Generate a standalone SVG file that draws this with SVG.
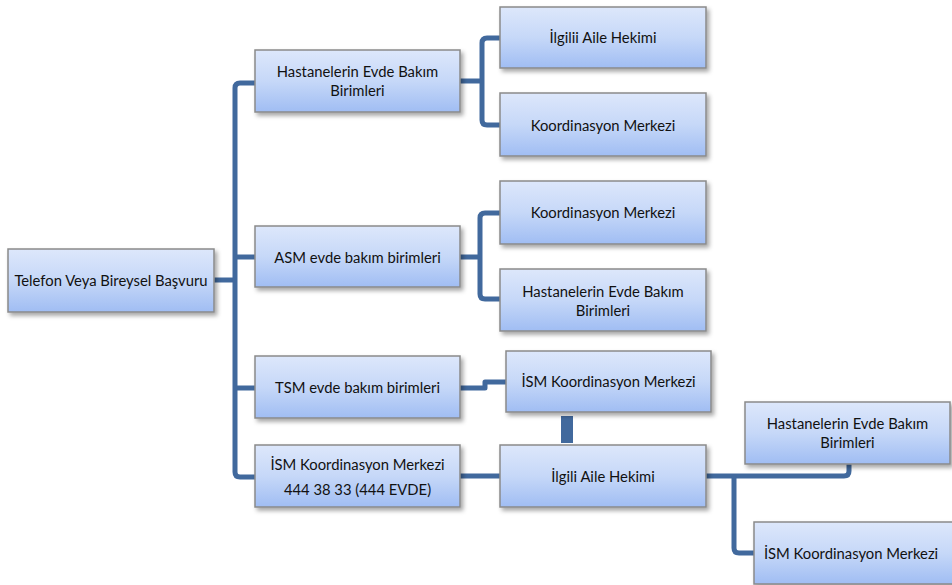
<svg xmlns="http://www.w3.org/2000/svg" width="952" height="585" viewBox="0 0 952 585">
<defs>
<linearGradient id="g" x1="0" y1="0" x2="0" y2="1">
<stop offset="0" stop-color="#dde7fb"/>
<stop offset="0.5" stop-color="#c6d8f8"/>
<stop offset="1" stop-color="#a0bdf3"/>
</linearGradient>
<filter id="sh" x="-10%" y="-10%" width="130%" height="140%">
<feDropShadow dx="2.5" dy="3" stdDeviation="2" flood-color="#000" flood-opacity="0.35"/>
</filter>
</defs>
<style>
.box{fill:url(#g);stroke:#8a8a8a;stroke-width:1.5;filter:url(#sh)}
.t{font-family:Lato,"Open Sans",sans-serif;font-size:14.8px;fill:#111;text-anchor:middle}
.c{fill:none;stroke:#41699d;stroke-width:5;stroke-linejoin:round}
</style>
<rect width="952" height="585" fill="#fff"/>
<g id="connectors">
<path class="c" d="M214 280 H235"/>
<path class="c" d="M255 83 H240 Q235 83 235 88 V472 Q235 477 240 477 H255"/>
<path class="c" d="M235 257 H255"/>
<path class="c" d="M235 388 H255"/>
<path class="c" d="M460 81 H482"/>
<path class="c" d="M500 38 H487 Q482 38 482 43 V120 Q482 125 487 125 H500"/>
<path class="c" d="M460 257 H480"/>
<path class="c" d="M500 213 H485 Q480 213 480 218 V294 Q480 299 485 299 H500"/>
<path class="c" d="M460 388 H485 V382 H506"/>
<rect x="561" y="416" width="12" height="27" fill="#41699d"/>
<path class="c" d="M460 476 H500"/>
<path class="c" d="M706 476 H844 Q849 476 849 471 V464"/>
<path class="c" d="M734 476 V548 Q734 553 739 553 H754"/>
</g>
<g id="n1"><rect class="box" x="8" y="249" width="206" height="63"/><text class="t" x="111" y="286">Telefon Veya Bireysel Başvuru</text></g>
<g id="n2"><rect class="box" x="255" y="50" width="205" height="62"/><text class="t" x="357.5" y="77">Hastanelerin Evde Bakım</text><text class="t" x="357.5" y="96">Birimleri</text></g>
<g id="n3"><rect class="box" x="500" y="7" width="206" height="61"/><text class="t" x="603" y="43">İlgilii Aile Hekimi</text></g>
<g id="n4"><rect class="box" x="500" y="93" width="206" height="63"/><text class="t" x="603" y="131">Koordinasyon Merkezi</text></g>
<g id="n5"><rect class="box" x="255" y="226" width="205" height="61"/><text class="t" x="357.5" y="263">ASM evde bakım birimleri</text></g>
<g id="n6"><rect class="box" x="500" y="181" width="206" height="63"/><text class="t" x="603" y="218">Koordinasyon Merkezi</text></g>
<g id="n7"><rect class="box" x="500" y="269" width="206" height="62"/><text class="t" x="603" y="297">Hastanelerin Evde Bakım</text><text class="t" x="603" y="316">Birimleri</text></g>
<g id="n8"><rect class="box" x="255" y="356" width="205" height="62"/><text class="t" x="357.5" y="393">TSM evde bakım birimleri</text></g>
<g id="n9"><rect class="box" x="506" y="351" width="205" height="61"/><text class="t" x="608.5" y="387">İSM Koordinasyon Merkezi</text></g>
<g id="n10"><rect class="box" x="255" y="445" width="205" height="62"/><text class="t" x="357.5" y="470">İSM Koordinasyon Merkezi</text><text class="t" x="357.5" y="495">444 38 33 (444 EVDE)</text></g>
<g id="n11"><rect class="box" x="500" y="445" width="206" height="62"/><text class="t" x="603" y="482">İlgili Aile Hekimi</text></g>
<g id="n12"><rect class="box" x="745" y="402" width="205" height="62"/><text class="t" x="847.5" y="429">Hastanelerin Evde Bakım</text><text class="t" x="847.5" y="448">Birimleri</text></g>
<g id="n13"><rect class="box" x="754" y="522" width="200" height="62"/><text class="t" x="851" y="559">İSM Koordinasyon Merkezi</text></g>
</svg>
